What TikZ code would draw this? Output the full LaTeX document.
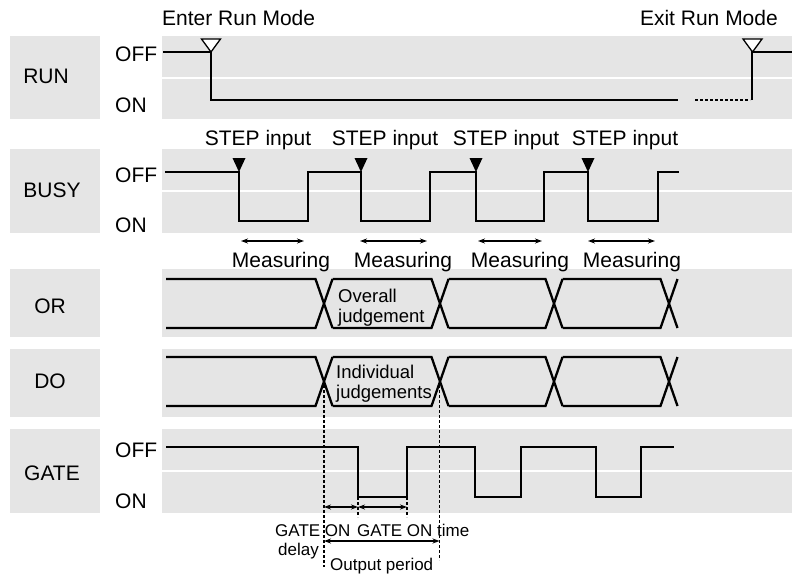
\documentclass[tikz,border=0pt]{standalone}
\usepackage{fontspec}
\setmainfont{Liberation Sans}
\usetikzlibrary{arrows.meta}
\definecolor{bandgray}{RGB}{229,229,229}
\begin{document}
\begin{tikzpicture}[x=1pt,y=-1pt,
  sig/.style={line width=2.6pt, line join=miter, line cap=butt},
  busln/.style={line width=2.3pt},
  big/.style={font=\fontsize{21}{25}\selectfont, inner sep=0pt},
  mid/.style={font=\fontsize{18.5}{21}\selectfont, inner sep=0pt},
  sml/.style={font=\fontsize{17}{20}\selectfont, inner sep=0pt},
  dotln/.style={line width=1.4pt, dash pattern=on 3pt off 2pt},
  dim/.style={line width=1.3pt, {Stealth[length=7pt,width=5pt]}-{Stealth[length=7pt,width=5pt]}},
  sepln/.style={draw=white, line width=2pt},
  opentri/.style={draw=black, fill=white, line width=1.3pt, line join=miter},
  fulltri/.style={fill=black}
]
\useasboundingbox (0,0) rectangle (792,576);
% ---------- label boxes ----------
\fill[bandgray] (10,36) rectangle (100,119);
\fill[bandgray] (10,149) rectangle (100,233);
\fill[bandgray] (10,269) rectangle (100,337);
\fill[bandgray] (10,349) rectangle (100,417);
\fill[bandgray] (10,429) rectangle (100,513);
\node[big] (lrun) at (46,76) {RUN};
\node[big] (lbusy) at (52,190) {BUSY};
\node[big] (lor) at (50,306) {OR};
\node[big] (ldo) at (50,381) {DO};
\node[big] (lgate) at (52,473) {GATE};
% ---------- signal bands ----------
\fill[bandgray] (162,36) rectangle (792,119);
\fill[bandgray] (162,149) rectangle (792,233);
\fill[bandgray] (162,269) rectangle (792,337);
\fill[bandgray] (162,349) rectangle (792,417);
\fill[bandgray] (162,429) rectangle (792,513);
\draw[sepln] (162,78) -- (792,78);
\draw[sepln] (162,191) -- (792,191);
\draw[sepln] (162,471) -- (792,471);
% ---------- OFF / ON labels ----------
\node[big, anchor=base west] (runoff) at (115,61) {OFF};
\node[big, anchor=base west] (runon) at (115,112) {ON};
\node[big, anchor=base west] (busyoff) at (115,182) {OFF};
\node[big, anchor=base west] (busyon) at (115,232) {ON};
\node[big, anchor=base west] (gateoff) at (115,457) {OFF};
\node[big, anchor=base west] (gateon) at (115,508) {ON};
% ---------- RUN ----------
\node[big, anchor=base west] (enter) at (162,25) {Enter Run Mode};
\node[big, anchor=base east] (exit) at (778,25) {Exit Run Mode};
\draw[sig] (163,52) -- (211,52) -- (211,100) -- (678,100);
\draw[line width=2.6pt, dash pattern=on 2.5pt off 2.5pt] (695,100) -- (750,100);
\draw[sig] (752,100) -- (752,52) -- (792,52);
\draw[opentri] (201.5,39) -- (220.5,39) -- (211,52) -- cycle;
\draw[opentri] (743,39) -- (762,39) -- (752.5,52) -- cycle;
% ---------- BUSY ----------
\draw[sig] (165,172) -- (239,172) -- (239,221) -- (308,221) -- (308,172)
  -- (361,172) -- (361,221) -- (430,221) -- (430,172)
  -- (476,172) -- (476,221) -- (544,221) -- (544,172)
  -- (588,172) -- (588,221) -- (658,221) -- (658,172) -- (679,172);
\foreach \xx in {239,361,476,588}{
  \fill[fulltri] (\xx-6.5,158) -- (\xx+6.5,158) -- (\xx,172) -- cycle;
}
\node[big, anchor=base] (st1) at (258,145) {STEP input};
\node[big, anchor=base] (st2) at (385,145) {STEP input};
\node[big, anchor=base] (st3) at (506,145) {STEP input};
\node[big, anchor=base] (st4) at (625,145) {STEP input};
\draw[dim] (241,241) -- (304,241);
\draw[dim] (360,241) -- (427,241);
\draw[dim] (478,241) -- (542,241);
\draw[dim] (588,241) -- (655,241);
\node[big, anchor=base] (m1) at (281,267) {Measuring};
\node[big, anchor=base] (m2) at (403,267) {Measuring};
\node[big, anchor=base] (m3) at (520,267) {Measuring};
\node[big, anchor=base] (m4) at (632,267) {Measuring};
% ---------- OR / DO buses ----------
\foreach \yt/\yb in {279/328, 357/406}{
  \draw[busln] (166,\yt) -- (315.5,\yt) -- (332.5,\yb);
  \draw[busln] (166,\yb) -- (315.5,\yb) -- (332.5,\yt);
  \draw[busln] (332.5,\yt) -- (431.5,\yt) -- (448.5,\yb);
  \draw[busln] (332.5,\yb) -- (431.5,\yb) -- (448.5,\yt);
  \draw[busln] (448.5,\yt) -- (545.5,\yt) -- (562.5,\yb);
  \draw[busln] (448.5,\yb) -- (545.5,\yb) -- (562.5,\yt);
  \draw[busln] (562.5,\yt) -- (660.5,\yt) -- (677.5,\yb);
  \draw[busln] (562.5,\yb) -- (660.5,\yb) -- (677.5,\yt);
}
\node[mid, anchor=base west] (ov1) at (338,302) {Overall};
\node[mid, anchor=base west] (ov2) at (338,322) {judgement};
\node[mid, anchor=base west] (in1) at (336,378) {Individual};
\node[mid, anchor=base west] (in2) at (336,398) {judgements};
% ---------- GATE ----------
\draw[sig] (166,447) -- (358,447) -- (358,497) -- (407,497) -- (407,447)
  -- (475,447) -- (475,497) -- (521,497) -- (521,447)
  -- (596,447) -- (596,497) -- (641,497) -- (641,447) -- (674,447);
% dotted guides
\draw[dotln] (324,385) -- (324,567);
\draw[dotln] (439.5,385) -- (439.5,560);
\draw[dotln] (358,497) -- (358,517);
\draw[dotln] (407,497) -- (407,517);
% dimension arrows
\draw[dim] (324,507) -- (358,507);
\draw[dim] (358,507) -- (407,507);
\draw[dim] (324,541) -- (439.5,541);
\node[sml, anchor=base west] (gd1) at (275,536) {GATE ON};
\node[sml, anchor=base west] (gd2) at (278,555) {delay};
\node[sml, anchor=base west] (gt) at (357,536) {GATE ON time};
\node[sml, anchor=base west] (op) at (330,570) {Output period};
\end{tikzpicture}
\end{document}
